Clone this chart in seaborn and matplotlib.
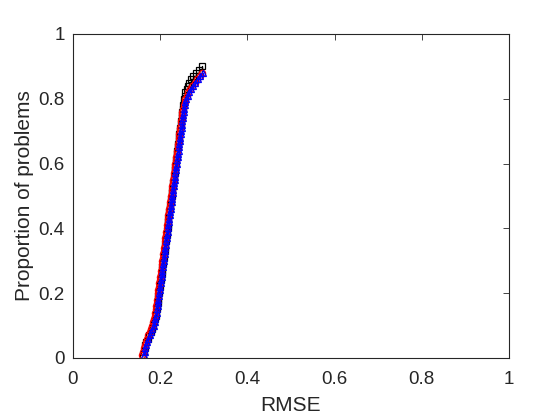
import numpy as np
import matplotlib
matplotlib.use("Agg")
import matplotlib.pyplot as plt
import seaborn as sns

# total number of test problems (failed ones are never reached, so curves stop below 1)
n_problems = 100

# sorted RMSE per solver
rmse_black = [0.160, 0.162, 0.164, 0.166, 0.168, 0.171, 0.175, 0.178, 0.181, 0.184,
              0.186, 0.188, 0.190, 0.191, 0.192, 0.193, 0.194, 0.195, 0.196, 0.197,
              0.198, 0.199, 0.200, 0.201, 0.202, 0.203, 0.204, 0.205, 0.206, 0.207,
              0.208, 0.209, 0.210, 0.211, 0.212, 0.213, 0.214, 0.215, 0.216, 0.217,
              0.217, 0.218, 0.219, 0.220, 0.221, 0.222, 0.223, 0.224, 0.225, 0.226,
              0.227, 0.228, 0.229, 0.230, 0.231, 0.232, 0.233, 0.234, 0.235, 0.236,
              0.237, 0.238, 0.238, 0.239, 0.240, 0.241, 0.242, 0.243, 0.244, 0.245,
              0.246, 0.247, 0.248, 0.249, 0.250, 0.251, 0.252, 0.253, 0.254, 0.255,
              0.256, 0.258, 0.261, 0.263, 0.266, 0.270, 0.276, 0.282, 0.289, 0.297]

rmse_red = [0.159, 0.161, 0.163, 0.165, 0.167, 0.170, 0.173, 0.176, 0.179, 0.182,
            0.184, 0.186, 0.188, 0.189, 0.190, 0.191, 0.192, 0.193, 0.194, 0.195,
            0.196, 0.197, 0.198, 0.199, 0.200, 0.201, 0.202, 0.203, 0.204, 0.205,
            0.206, 0.207, 0.208, 0.209, 0.210, 0.211, 0.212, 0.213, 0.214, 0.215,
            0.216, 0.217, 0.218, 0.219, 0.220, 0.221, 0.222, 0.223, 0.224, 0.225,
            0.226, 0.227, 0.228, 0.229, 0.230, 0.231, 0.232, 0.233, 0.234, 0.235,
            0.236, 0.237, 0.238, 0.239, 0.240, 0.241, 0.242, 0.243, 0.244, 0.245,
            0.246, 0.247, 0.248, 0.249, 0.250, 0.251, 0.252, 0.254, 0.256, 0.258,
            0.261, 0.264, 0.268, 0.273, 0.279, 0.285, 0.291, 0.296]

rmse_blue = [0.162, 0.164, 0.166, 0.168, 0.170, 0.173, 0.176, 0.179, 0.182, 0.185,
             0.187, 0.189, 0.191, 0.192, 0.193, 0.194, 0.195, 0.196, 0.197, 0.198,
             0.199, 0.200, 0.201, 0.202, 0.203, 0.204, 0.205, 0.206, 0.207, 0.208,
             0.209, 0.210, 0.211, 0.212, 0.213, 0.214, 0.215, 0.216, 0.217, 0.218,
             0.219, 0.220, 0.221, 0.222, 0.223, 0.224, 0.225, 0.226, 0.227, 0.228,
             0.229, 0.230, 0.231, 0.232, 0.233, 0.234, 0.235, 0.236, 0.237, 0.238,
             0.239, 0.240, 0.241, 0.242, 0.243, 0.244, 0.245, 0.246, 0.247, 0.248,
             0.249, 0.250, 0.251, 0.252, 0.253, 0.254, 0.255, 0.256, 0.258, 0.260,
             0.263, 0.266, 0.270, 0.275, 0.280, 0.286, 0.292, 0.298]

series = [
    (rmse_black, 'black', 's'),
    (rmse_red, 'red', 'o'),
    (rmse_blue, 'blue', '^'),
]

ticks = [0, 0.2, 0.4, 0.6, 0.8, 1]
tick_labels = ['0', '0.2', '0.4', '0.6', '0.8', '1']

sns.set_theme(style="white")
plt.rcParams['font.family'] = ['Liberation Sans', 'DejaVu Sans']
text_color = '#262626'

fig = plt.figure(figsize=(5.6, 4.2), dpi=100)
ax = fig.add_axes([73 / 560, 62 / 420, 436 / 560, 324 / 420])

for vals, col, mk in series:
    vals = np.array(vals)
    prop = np.arange(1, len(vals) + 1) / n_problems
    sns.lineplot(x=vals, y=prop, estimator=None, sort=False, ax=ax,
                 drawstyle='steps-post', color=col, linewidth=1.0,
                 marker=mk, markersize=4.5, markerfacecolor='none',
                 markeredgecolor=col, markeredgewidth=0.9)

ax.set_xlim(0, 1)
ax.set_ylim(0, 1)
ax.set_xticks(ticks)
ax.set_xticklabels(tick_labels)
ax.set_yticks(ticks)
ax.set_yticklabels(tick_labels)
ax.tick_params(direction='in', length=4, width=0.6, top=True, right=True,
               labelsize=13.5, colors=text_color)
ax.tick_params(axis='x', pad=9)
ax.tick_params(axis='y', pad=6)
for s in ax.spines.values():
    s.set_visible(True)
    s.set_color(text_color)
    s.set_linewidth(0.8)

ax.set_xlabel('RMSE', fontsize=15, color=text_color, labelpad=6)
ax.set_ylabel('Proportion of problems', fontsize=15, color=text_color, labelpad=3)

fig.savefig('out.png', dpi=100)
